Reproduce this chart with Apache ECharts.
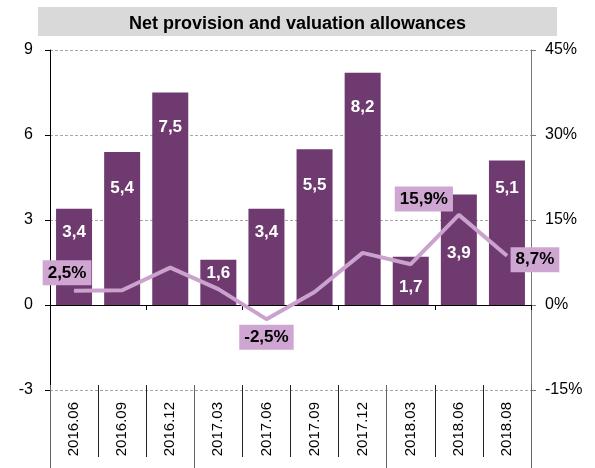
<!DOCTYPE html>
<html>
<head>
<meta charset="utf-8">
<script src="https://cdn.jsdelivr.net/npm/echarts@6/dist/echarts.min.js"></script>
<style>
  html, body { margin: 0; padding: 0; background: #fff; }
  #chart { width: 595px; height: 468px; }
</style>
</head>
<body>
<div id="chart"></div>
<script>
// data
var categories = ['2016.06', '2016.09', '2016.12', '2017.03', '2017.06', '2017.09', '2017.12', '2018.03', '2018.06', '2018.08'];
var provisions = [3.4, 5.4, 7.5, 1.6, 3.4, 5.5, 8.2, 1.7, 3.9, 5.1];
var growthPct = [2.5, 2.6, 6.6, 2.8, -2.5, 2.3, 9.2, 7.2, 15.9, 8.7];
var labelledPoints = [0, 4, 8, 9];
var leftTicks = { min: -3, max: 9, step: 3 };
var rightTicks = { min: -15, max: 45, step: 15 };

// label placement (style only)
var barLabelDy = [24, 36, 35, 14, 24, 36, 35, 30, 59, 28];
var pointLabelOffset = { 0: [-7, -18], 4: [0, 18], 8: [-35, -16], 9: [28, 4] };
var yearStarts = [0, 3, 7];

var FONT = 'Liberation Sans, Arial, sans-serif';
var PURPLE = '#6e3a6f';
var LILAC = '#caa2cd';

function comma(v) { return v.toFixed(1).replace('.', ','); }

var barData = provisions.map(function (v, i) {
  return {
    value: v,
    label: { position: ['50%', barLabelDy[i]] }
  };
});

var lineData = growthPct.map(function (v, i) {
  var item = { value: v };
  if (labelledPoints.indexOf(i) >= 0) {
    item.label = { show: true, offset: pointLabelOffset[i] };
  }
  return item;
});

var myChart = echarts.init(document.getElementById('chart'));
var option = {
  animation: false,
  textStyle: { fontFamily: FONT },
  title: {
    text: 'Net provision and valuation allowances',
    left: 'center',
    top: 7,
    backgroundColor: '#d9d9d9',
    padding: [8, 91, 3, 91],
    textStyle: { fontFamily: FONT, fontSize: 18, fontWeight: 'bold', color: '#000', lineHeight: 18 }
  },
  grid: { left: 50, right: 64, top: 50, bottom: 78 },
  xAxis: [{
    type: 'category',
    data: categories,
    axisLine: { onZero: true, lineStyle: { color: '#000', width: 1 } },
    axisTick: { show: true, length: 5, lineStyle: { color: '#000' } },
    axisLabel: { show: false }
  }, {
    type: 'category',
    data: categories,
    position: 'bottom',
    offset: -5,
    axisLine: { show: false, onZero: false },
    axisTick: { show: true, length: 72, interval: 0, lineStyle: { color: '#222' } },
    axisLabel: { rotate: 90, margin: 17, fontSize: 15, color: '#000', fontFamily: FONT, interval: 0 }
  }, {
    type: 'category',
    data: categories,
    position: 'bottom',
    offset: -5,
    axisLine: { show: false, onZero: false },
    axisTick: {
      show: true, length: 83,
      interval: function (index) { return yearStarts.indexOf(index) >= 0; },
      lineStyle: { color: '#666' }
    },
    axisLabel: { show: false }
  }],
  yAxis: [{
    type: 'value',
    min: leftTicks.min, max: leftTicks.max, interval: leftTicks.step,
    axisLine: { show: true, lineStyle: { color: '#000' } },
    axisTick: { show: true, length: 5, lineStyle: { color: '#000' } },
    axisLabel: { fontSize: 16, color: '#000', margin: 17, fontFamily: FONT },
    splitLine: { show: true, lineStyle: { color: '#a6a6a6', type: [3, 2] } }
  }, {
    type: 'value',
    position: 'right',
    min: rightTicks.min, max: rightTicks.max, interval: rightTicks.step,
    axisLine: { show: true, lineStyle: { color: '#777' } },
    axisTick: { show: true, length: 5, lineStyle: { color: '#777' } },
    axisLabel: { fontSize: 16, color: '#000', margin: 14, fontFamily: FONT, formatter: '{value}%' },
    splitLine: { show: false }
  }],
  series: [{
    name: 'Net provision',
    type: 'bar',
    data: barData,
    barWidth: 36,
    itemStyle: { color: PURPLE },
    label: {
      show: true,
      align: 'center',
      verticalAlign: 'middle',
      color: '#fff',
      fontSize: 17,
      fontWeight: 'bold',
      fontFamily: FONT,
      formatter: function (p) { return comma(p.value); }
    },
    z: 2
  }, {
    name: 'Change',
    type: 'line',
    yAxisIndex: 1,
    data: lineData,
    symbol: 'circle',
    symbolSize: 1,
    itemStyle: { color: LILAC },
    lineStyle: { color: LILAC, width: 4 },
    label: {
      show: false,
      position: 'inside',
      color: '#000',
      fontSize: 17,
      fontWeight: 'bold',
      fontFamily: FONT,
      backgroundColor: '#cfa6d2',
      padding: [4, 5, 3, 5],
      lineHeight: 18,
      formatter: function (p) { return comma(p.value) + '%'; }
    },
    z: 3
  }]
};
myChart.setOption(option);
window.addEventListener('resize', function () {
  myChart.resize();
});
</script>
</body>
</html>
